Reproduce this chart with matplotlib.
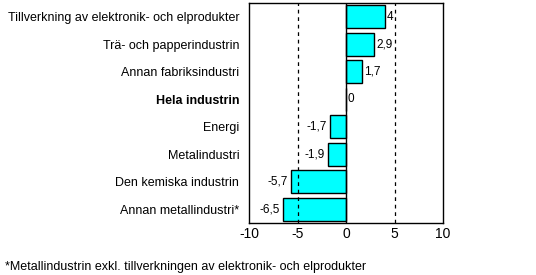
import matplotlib
matplotlib.use('Agg')
import matplotlib.pyplot as plt

plt.rcParams['font.family'] = ['Liberation Sans', 'DejaVu Sans']

# change, per cent
categories = ['Tillverkning av elektronik- och elprodukter',
              'Trä- och papperindustrin',
              'Annan fabriksindustri',
              'Hela industrin',
              'Energi',
              'Metalindustri',
              'Den kemiska industrin',
              'Annan metallindustri*']
values = [4.0, 2.9, 1.7, 0.0, -1.7, -1.9, -5.7, -6.5]
value_labels = ['4', '2,9', '1,7', '0', '-1,7', '-1,9', '-5,7', '-6,5']
xticks = [-10, -5, 0, 5, 10]
footnote = '*Metallindustrin exkl. tillverkningen av elektronik- och elprodukter'

fig = plt.figure(figsize=(5.36, 2.75), dpi=100)
ax = fig.add_axes([249/536, 1 - 223/275, 194/536, 220/275])

ypos = list(range(len(categories)))
ax.barh(ypos, values, height=0.82, color='#00FFFF', edgecolor='black', linewidth=1)
ax.axvline(0, color='black', linewidth=1)
for xv in (-5, 5):
    ax.axvline(xv, color='black', linewidth=0.9, linestyle=(0, (3, 3)))

for y, v, lab in zip(ypos, values, value_labels):
    if v >= 0:
        ax.text(v + 0.2, y, lab, ha='left', va='center', fontsize=8.5)
    else:
        ax.text(v - 0.3, y, lab, ha='right', va='center', fontsize=8.5)

ax.set_xlim(-10, 10)
ax.set_ylim(len(categories) - 0.5, -0.5)
ax.set_xticks(xticks)
ax.set_xticklabels([str(t) for t in xticks], fontsize=10)
ax.set_yticks(ypos)
ax.set_yticklabels(categories, fontsize=9)
ax.get_yticklabels()[3].set_fontweight('bold')
ax.tick_params(axis='y', length=0, pad=7)
ax.tick_params(axis='x', length=0, pad=3)
for s in ax.spines.values():
    s.set_linewidth(1)

fig.text(5/536, 1 - 267/275, footnote, fontsize=9, ha='left', va='center')

fig.savefig('out.png', dpi=100)
